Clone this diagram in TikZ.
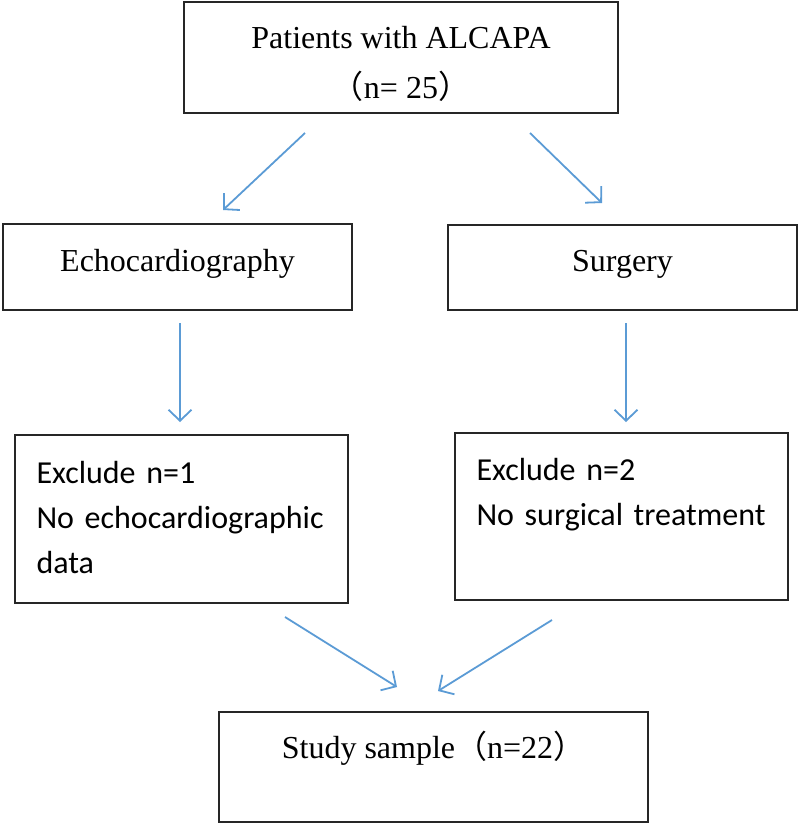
\documentclass[tikz,border=0pt]{standalone}
\usepackage{fontspec}
\setmainfont{Liberation Serif}
\newfontfamily\cjk{Noto Sans CJK SC}
\newfontfamily\calibri{Carlito}
\usetikzlibrary{arrows.meta}
\definecolor{arrowblue}{RGB}{91,155,213}
\definecolor{boxgray}{RGB}{38,38,38}
% strut with given height and depth
\newcommand\boxstrut[2]{\rule[-#2]{0pt}{\dimexpr#1+#2\relax}}

\begin{document}
\begin{tikzpicture}[x=1pt,y=-1pt,
  box/.style={draw=boxgray, line width=2.6pt, inner sep=0pt},
  headbox/.style={box, font=\fontsize{32}{50}\selectfont, align=center},
  stepbox/.style={box, font=\fontsize{32}{40}\selectfont},
  exclbox/.style={box, font=\calibri\fontsize{32}{45}\selectfont, align=left,
    text width=290pt, inner xsep=21.5pt},
  flow/.style={draw=arrowblue, line width=1.8pt,
    -{Straight Barb[length=11pt,width=23pt]}}]
  \useasboundingbox (0,0) rectangle (800,825);

  % Boxes
  \node[headbox, minimum width=434pt, minimum height=111pt] (patients) at (401,57.5)
    {\boxstrut{37pt}{0pt}Patients with ALCAPA\\{\cjk （}n= 25{\cjk ）}\boxstrut{0pt}{6pt}};
  \node[stepbox, minimum width=349pt, minimum height=86pt,
    text height=18pt, text depth=10pt] (echo) at (177.5,267) {Echocardiography};
  \node[stepbox, minimum width=349pt, minimum height=85pt,
    text height=17pt, text depth=10pt] (surgery) at (622.5,267.5) {Surgery};
  \node[exclbox, minimum height=168pt] (exclecho) at (181.5,519)
    {\boxstrut{30pt}{0pt}Exclude n=1\\No echocardiographic\\data\boxstrut{0pt}{12pt}};
  \node[exclbox, minimum height=167pt] (exclsurg) at (621.5,516.5)
    {\boxstrut{25pt}{0pt}Exclude n=2\\No surgical treatment\boxstrut{0pt}{53pt}};
  \node[stepbox, minimum width=429pt, minimum height=110pt,
    text height=10pt, text depth=28pt] (sample) at (433.5,767)
    {Study sample{\cjk （}n=22{\cjk ）}};

  % Arrow ends
  \coordinate (patleft)   at (305,133);
  \coordinate (echoin)    at (223,210);
  \coordinate (patright)  at (530,133);
  \coordinate (surgin)    at (602,203);
  \coordinate (echoout)   at (180,323);
  \coordinate (exclein)   at (180,422);
  \coordinate (surgout)   at (626,323);
  \coordinate (exclsin)   at (626,422);
  \coordinate (exeout)    at (285,617);
  \coordinate (sampleinl) at (397,687);
  \coordinate (exsout)    at (552,620);
  \coordinate (sampleinr) at (438,691);

  % Arrows
  \draw[flow] (patleft)  -- (echoin);
  \draw[flow] (patright) -- (surgin);
  \draw[flow] (echoout)  -- (exclein);
  \draw[flow] (surgout)  -- (exclsin);
  \draw[flow] (exeout)   -- (sampleinl);
  \draw[flow] (exsout)   -- (sampleinr);
\end{tikzpicture}
\end{document}
